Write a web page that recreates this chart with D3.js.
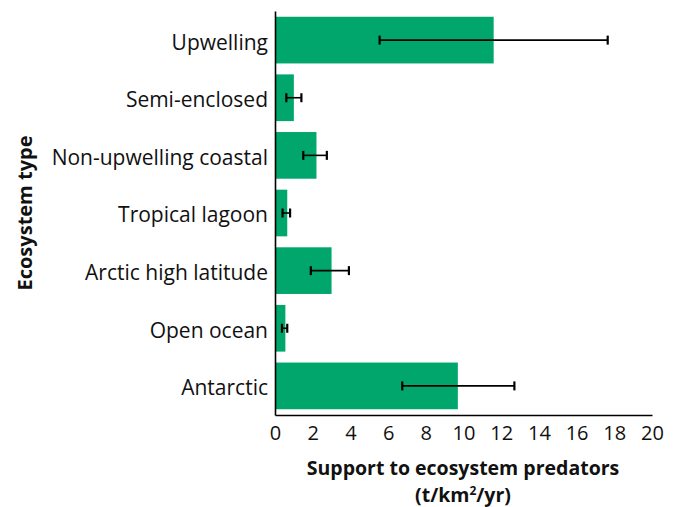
<!DOCTYPE html>
<html>
<head>
<meta charset="utf-8">
<script src="https://cdn.jsdelivr.net/npm/d3@7"></script>
<style>
  body { margin: 0; background: #fff; }
  svg { display: block; font-family: "Open Sans", "Noto Sans", sans-serif; }
</style>
</head>
<body>
<svg id="chart"></svg>
<script>
// Support to ecosystem predators by ecosystem type, with error bars

const width = 686;
const height = 507;

const ecosystems = [
  "Upwelling",
  "Semi-enclosed",
  "Non-upwelling coastal",
  "Tropical lagoon",
  "Arctic high latitude",
  "Open ocean",
  "Antarctic",
];
const support = [11.6, 1.0, 2.2, 0.65, 3.0, 0.55, 9.7];
const errLow = [5.55, 0.6, 1.5, 0.4, 1.9, 0.37, 6.75];
const errHigh = [17.65, 1.4, 2.75, 0.8, 3.92, 0.65, 12.7];
const xTicks = [0, 2, 4, 6, 8, 10, 12, 14, 16, 18, 20];

const rows = ecosystems.map((name, i) => ({
  name: name,
  value: support[i],
  lo: errLow[i],
  hi: errHigh[i],
}));

const margin = { top: 11, right: 34, bottom: 92, left: 275 };

const svg = d3.select("#chart").attr("width", width).attr("height", height);

const x = d3
  .scaleLinear()
  .domain([0, 20])
  .range([margin.left, width - margin.right]);

const y = d3
  .scaleBand()
  .domain(ecosystems)
  .range([margin.top, height - margin.bottom])
  .paddingInner(0.19)
  .paddingOuter(0.1);

// bars
svg
  .append("g")
  .selectAll("rect")
  .data(rows)
  .enter()
  .append("rect")
  .attr("x", x(0))
  .attr("y", (d) => y(d.name))
  .attr("width", (d) => x(d.value) - x(0))
  .attr("height", y.bandwidth())
  .attr("fill", "#00a66c");

// error bars
const errs = svg.append("g").attr("stroke", "#000");
rows.forEach((d) => {
  const cy = y(d.name) + y.bandwidth() / 2;
  errs
    .append("line")
    .attr("x1", x(d.lo))
    .attr("x2", x(d.hi))
    .attr("y1", cy)
    .attr("y2", cy)
    .attr("stroke-width", 1.6);
  [d.lo, d.hi].forEach((v) => {
    errs
      .append("line")
      .attr("x1", x(v))
      .attr("x2", x(v))
      .attr("y1", cy - 4.5)
      .attr("y2", cy + 4.5)
      .attr("stroke-width", 2.2);
  });
});

// x axis
const xAxis = svg
  .append("g")
  .attr("transform", `translate(0, ${height - margin.bottom})`)
  .call(d3.axisBottom(x).tickValues(xTicks).tickSize(0).tickPadding(11));
xAxis.select(".domain").attr("stroke", "#000").attr("stroke-width", 1.6);
xAxis
  .selectAll("text")
  .attr("font-size", 20)
  .attr("font-family", "Open Sans, sans-serif")
  .attr("fill", "#111");

// y axis
const yAxis = svg
  .append("g")
  .attr("transform", `translate(${margin.left}, 0)`)
  .call(d3.axisLeft(y).tickSize(0).tickPadding(7));
yAxis.select(".domain").attr("stroke", "#000").attr("stroke-width", 1.6);
yAxis
  .selectAll("text")
  .attr("font-size", 21)
  .attr("dy", "0.45em")
  .attr("font-family", "Open Sans, sans-serif")
  .attr("fill", "#111");

// axis titles
svg
  .append("text")
  .attr("x", 463)
  .attr("y", 475)
  .attr("text-anchor", "middle")
  .attr("font-size", 19.5)
  .attr("font-weight", "bold")
  .attr("fill", "#111")
  .text("Support to ecosystem predators");

const unit = svg
  .append("text")
  .attr("x", 463)
  .attr("y", 502)
  .attr("text-anchor", "middle")
  .attr("font-size", 19.5)
  .attr("font-weight", "bold")
  .attr("fill", "#111");
unit.append("tspan").text("(t/km");
unit.append("tspan").attr("dy", -7).attr("font-size", 12).text("2");
unit.append("tspan").attr("dy", 7).text("/yr)");

svg
  .append("text")
  .attr("transform", "translate(32, 213) rotate(-90)")
  .attr("text-anchor", "middle")
  .attr("font-size", 20)
  .attr("font-weight", "bold")
  .attr("fill", "#111")
  .text("Ecosystem type");
</script>
</body>
</html>
